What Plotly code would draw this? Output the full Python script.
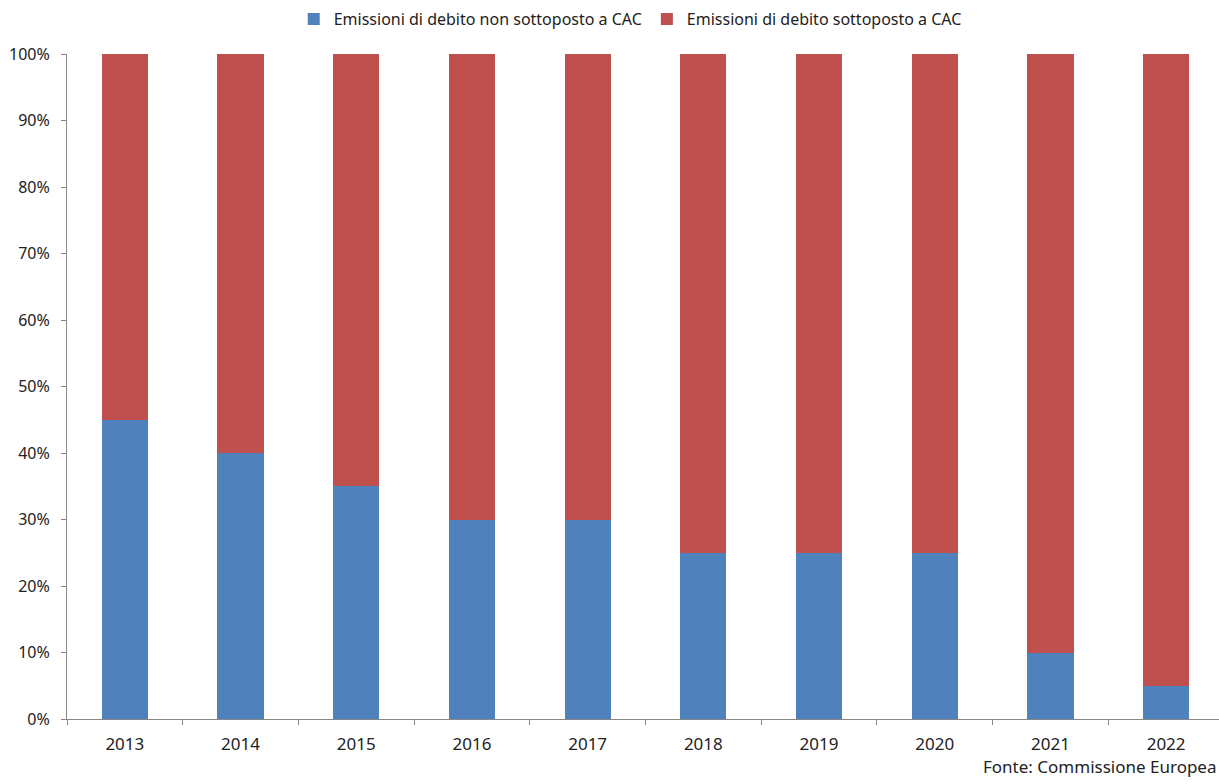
import plotly.graph_objects as go

years = ["2013", "2014", "2015", "2016", "2017", "2018", "2019", "2020", "2021", "2022"]
non_cac = [45, 40, 35, 30, 30, 25, 25, 25, 10, 5]
cac = [55, 60, 65, 70, 70, 75, 75, 75, 90, 95]
y_ticks = [0, 10, 20, 30, 40, 50, 60, 70, 80, 90, 100]
y_labels = [f"{v}%" for v in y_ticks]

FONT = "Noto Sans"
fig = go.Figure()
fig.add_trace(go.Bar(x=years, y=non_cac, name="Emissioni di debito non sottoposto a CAC",
                     marker=dict(color="#4F81BD", line=dict(width=0)), width=0.4))
fig.add_trace(go.Bar(x=years, y=cac, name="Emissioni di debito sottoposto a CAC",
                     marker=dict(color="#C0504D", line=dict(width=0)), width=0.4))

fig.update_layout(
    barmode="stack",
    width=1219, height=784,
    margin=dict(l=67, r=0, t=54, b=65),
    paper_bgcolor="white", plot_bgcolor="white",
    font=dict(family=FONT, size=16, color="#222222"),
    showlegend=True,
    legend=dict(orientation="h", x=0.517, xanchor="center", xref="container",
                y=1 - 19 / 784, yref="container", yanchor="middle",
                font=dict(size=16, family=FONT), traceorder="normal"),
    xaxis=dict(type="category", range=[-0.5, 9.457], showline=True, linecolor="#868686",
               linewidth=1, ticks="outside", tickson="boundaries", ticklen=5,
               tickcolor="#868686", showgrid=False, tickfont=dict(size=17),
               ticklabelstandoff=10),
    yaxis=dict(range=[0, 100], tickvals=y_ticks, ticktext=y_labels, showline=True,
               linecolor="#868686", linewidth=1, ticks="outside", ticklen=5,
               tickcolor="#868686", showgrid=False, zeroline=False,
               tickfont=dict(size=16), ticklabelstandoff=8),
    annotations=[dict(text="Fonte: Commissione Europea", xref="paper", yref="paper",
                      x=1.0, y=-(767 - 719) / 665, xanchor="right",
                      yanchor="middle", showarrow=False, font=dict(size=17, family=FONT))],
)

fig.write_html("out.html")
